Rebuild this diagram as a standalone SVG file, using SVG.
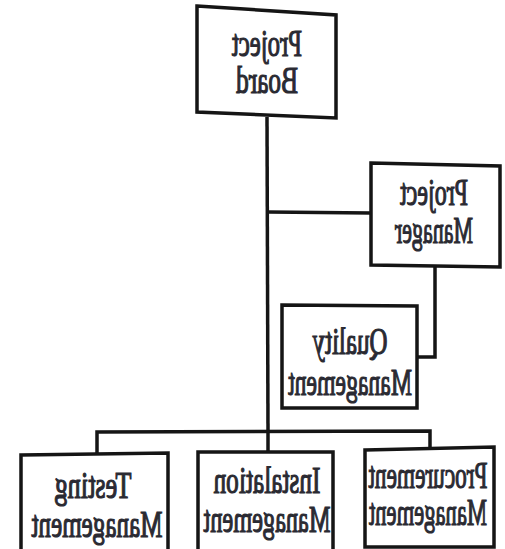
<svg xmlns="http://www.w3.org/2000/svg" width="505" height="549" viewBox="0 0 505 549">
<style>
.box{fill:#fff;stroke:#151515;stroke-width:3.5;stroke-linejoin:miter}
.ln{fill:none;stroke:#151515;stroke-width:3.5}
.t{font-family:"Liberation Serif","Times New Roman",serif;font-size:37px;fill:#2a2a32;stroke:#2a2a32;stroke-width:1.2;text-anchor:middle}
</style>
<rect width="505" height="549" fill="#fff"/>
<g id="connectors">
<polyline class="ln" points="267,117 268,432"/>
<polyline class="ln" points="268,212 371,213"/>
<polyline class="ln" points="435,266 435,357 417,357"/>
<polyline class="ln" points="97,455 97,432 430,431 430,449"/>
<polyline class="ln" points="268,432 268,452"/>
</g>
<g id="project-board">
<polygon class="box" points="197,6 336,15 336,118 197,112"/>
<text class="t" transform="translate(267,56) scale(-0.668,1)">Project</text>
<text class="t" transform="translate(267,93) scale(-0.686,1)">Board</text>
</g>
<g id="project-manager">
<polygon class="box" points="371,163 500,166 500,267 371,265"/>
<text class="t" transform="translate(434,205) scale(-0.649,1)">Project</text>
<text class="t" transform="translate(434,243) scale(-0.593,1)">Manager</text>
</g>
<g id="quality-management">
<polygon class="box" points="282,305 417,306 417,408 282,408"/>
<text class="t" transform="translate(350,354) scale(-0.676,1)">Quality</text>
<text class="t" transform="translate(350,395) scale(-0.642,1)">Management</text>
</g>
<g id="testing-management">
<polygon class="box" points="21,455 168,453 168,560 21,560"/>
<text class="t" transform="translate(93,498) scale(-0.71,1)">Testing</text>
<text class="t" transform="translate(97,537) scale(-0.678,1)">Management</text>
</g>
<g id="instalation-management">
<polygon class="box" points="198,452 333,452 333,560 198,560"/>
<text class="t" transform="translate(267,493) scale(-0.685,1)">Instalation</text>
<text class="t" transform="translate(267,532) scale(-0.657,1)">Management</text>
</g>
<g id="procurement-management">
<polygon class="box" points="365,450 494,447 494,547 365,547"/>
<text class="t" transform="translate(428,488) scale(-0.63,1)">Procurement</text>
<text class="t" transform="translate(428,525) scale(-0.611,1)">Management</text>
</g>
</svg>
